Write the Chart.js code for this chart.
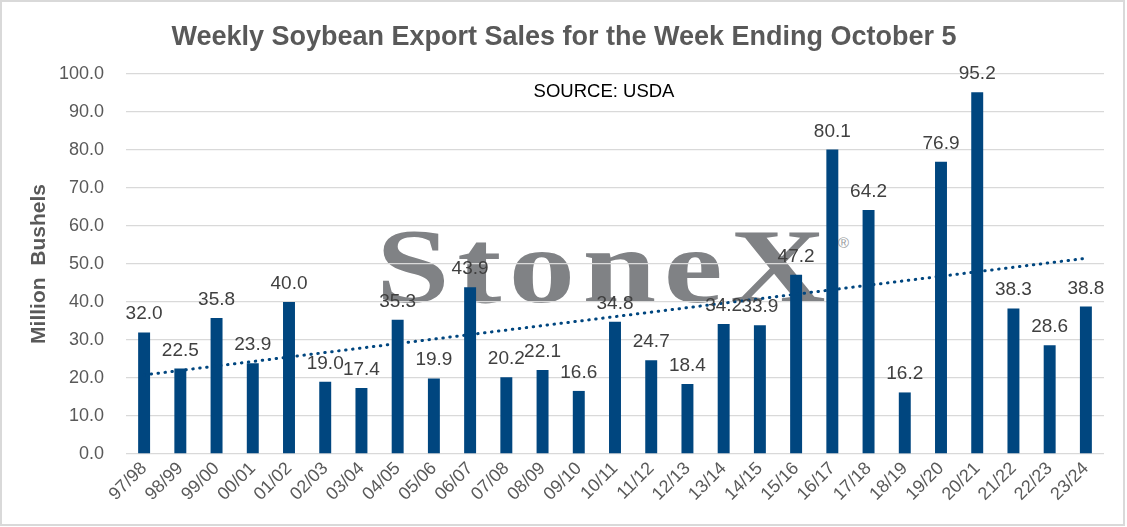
<!DOCTYPE html>
<html>
<head>
<meta charset="utf-8">
<title>Weekly Soybean Export Sales</title>
<script src="https://cdn.jsdelivr.net/npm/chart.js@4.4.0/dist/chart.umd.min.js"></script>
<style>
    body { margin: 0; background: #ffffff; }
    #wrap { position: relative; width: 1127px; height: 527px; overflow: hidden; }
    #mark {
        position: absolute; left: 376px; top: 214px;
        font: bold 106px "Liberation Serif", "DejaVu Serif", serif; line-height: 1;
        color: #808285; letter-spacing: 6px; white-space: nowrap;
        transform: scaleX(1.25); transform-origin: 0 0;
    }
    #reg { position: absolute; left: 838px; top: 234px; font: 15px "Liberation Sans", Arial, sans-serif; color: #9a9ca0; }
    canvas { position: absolute; left: 0; top: 0; }
    #frame {
        position: absolute; left: 0; top: 0; width: 1125px; height: 526px;
        border: 2px solid #d9d9d9; box-sizing: border-box; pointer-events: none;
    }
</style>
</head>
<body>
<div id="wrap">
    <div id="mark">StoneX</div>
    <div id="reg">®</div>
    <canvas id="salesChart" width="1127" height="527"></canvas>
    <div id="frame"></div>
</div>
<script>
// marketing years on the category axis
const seasons = ["97/98", "98/99", "99/00", "00/01", "01/02", "02/03", "03/04", "04/05", "05/06",
    "06/07", "07/08", "08/09", "09/10", "10/11", "11/12", "12/13", "13/14", "14/15", "15/16",
    "16/17", "17/18", "18/19", "19/20", "20/21", "21/22", "22/23", "23/24"];

// weekly export sales, million bushels
const salesValues = [32.0, 22.5, 35.8, 23.9, 40.0, 19.0, 17.4, 35.3, 19.9,
    43.9, 20.2, 22.1, 16.6, 34.8, 24.7, 18.4, 34.2, 33.9, 47.2,
    80.1, 64.2, 16.2, 76.9, 95.2, 38.3, 28.6, 38.8];

// dotted trend line (first and last season only)
const trendValues = [20.8, null, null, null, null, null, null, null, null,
    null, null, null, null, null, null, null, null, null, null,
    null, null, null, null, null, null, null, 51.5];

// y axis ticks
const yTickMin = 0;
const yTickMax = 100;
const yTickStep = 10;

const FONT = '"Liberation Sans", Arial, sans-serif';
const BAR_BLUE = "#00467f";

const chartText = {
    id: "chartText",
    afterDatasetsDraw: function (chart) {
        const ctx = chart.ctx;
        const meta = chart.getDatasetMeta(0);
        ctx.save();
        ctx.font = "19px " + FONT;
        ctx.fillStyle = "#404040";
        ctx.textAlign = "center";
        ctx.textBaseline = "alphabetic";
        meta.data.forEach(function (bar, i) {
            ctx.fillText(salesValues[i].toFixed(1), bar.x, bar.y - 13);
        });
        ctx.restore();
    },
    afterDraw: function (chart) {
        const ctx = chart.ctx;
        ctx.save();
        ctx.textAlign = "center";
        ctx.textBaseline = "alphabetic";
        ctx.font = "bold 27px " + FONT;
        ctx.fillStyle = "#595959";
        ctx.fillText("Weekly Soybean Export Sales for the Week Ending October 5", 564, 44.5);
        ctx.font = "18.5px " + FONT;
        ctx.fillStyle = "#000000";
        ctx.fillText("SOURCE: USDA", 604, 97);
        ctx.restore();
    }
};

Chart.defaults.font.family = FONT;

new Chart(document.getElementById("salesChart"), {
    type: "bar",
    data: {
        labels: seasons,
        datasets: [{
            label: "Weekly Export Sales",
            data: salesValues,
            backgroundColor: BAR_BLUE,
            barPercentage: 0.33,
            categoryPercentage: 1.0,
            order: 1
        }, {
            type: "line",
            label: "Trend",
            data: trendValues,
            spanGaps: true,
            borderColor: BAR_BLUE,
            borderWidth: 3,
            borderDash: [0.5, 6.5],
            borderCapStyle: "round",
            pointRadius: 0,
            fill: false,
            order: 0
        }]
    },
    options: {
        responsive: false,
        animation: false,
        devicePixelRatio: 1,
        layout: { padding: { left: 0, right: 23, top: 74, bottom: 0 } },
        plugins: {
            legend: { display: false },
            tooltip: { enabled: false },
            title: { display: false }
        },
        scales: {
            x: {
                grid: { display: false, drawTicks: false },
                border: { display: false },
                ticks: {
                    color: "#595959",
                    font: { size: 18 },
                    minRotation: 45,
                    maxRotation: 45,
                    autoSkip: false,
                    padding: 4
                },
                afterFit: function (scale) { scale.height = 73; }
            },
            y: {
                min: yTickMin,
                max: yTickMax,
                grid: { color: "#d9d9d9", lineWidth: 1.3, drawTicks: false },
                border: { display: false },
                ticks: {
                    stepSize: yTickStep,
                    color: "#595959",
                    font: { size: 18 },
                    padding: 22,
                    callback: function (value) { return value.toFixed(1); }
                },
                title: {
                    display: true,
                    text: "Million  Bushels",
                    color: "#595959",
                    font: { size: 21, weight: "bold" },
                    padding: { top: 27, bottom: 0 }
                },
                afterFit: function (scale) { scale.width = 126; }
            }
        }
    },
    plugins: [chartText]
});
</script>
</body>
</html>
